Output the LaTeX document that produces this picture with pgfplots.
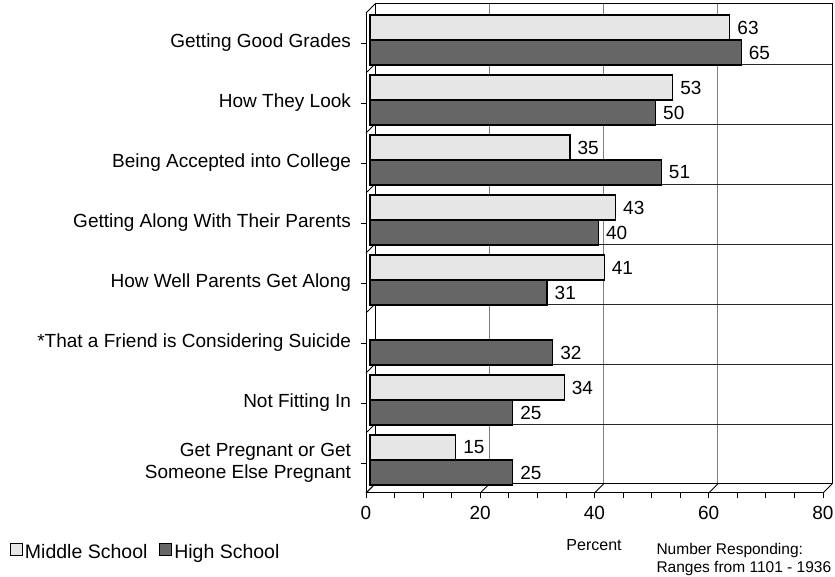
\documentclass[border=0pt]{standalone}
\usepackage{pgfplots}
\pgfplotsset{compat=1.18}
\usepackage{fontspec}
\setmainfont{Liberation Sans}

\definecolor{middlegray}{HTML}{E6E6E6}
\definecolor{highgray}{HTML}{666666}
\definecolor{gridgray}{HTML}{808080}

\begin{document}
\begin{tikzpicture}
\useasboundingbox (0,0) rectangle (835pt,577pt);
\begin{axis}[
  at={(366pt,84pt)}, anchor=south west,
  scale only axis, width=457pt, height=480pt,
  clip=false,
  xmin=0, xmax=80, ymin=0.5, ymax=8.5,
  axis x line*=bottom, axis y line*=left,
  xtick={0,20,40,60,80}, minor x tick num=3,
  ytick={1,...,8},
  yticklabels={{Get Pregnant or Get\\Someone Else Pregnant},
    Not Fitting In,
    *That a Friend is Considering Suicide,
    How Well Parents Get Along,
    Getting Along With Their Parents,
    Being Accepted into College,
    How They Look,
    Getting Good Grades},
  tick align=outside,
  major tick length=5.5pt, minor tick length=5pt,
  every tick/.style={black, line width=0.8pt},
  xmajorgrids,
  major x grid style={gridgray, line width=0.9pt, xshift=9pt, yshift=9pt},
  extra y ticks={1.5,2.5,3.5,4.5,5.5,6.5,7.5},
  extra y tick labels={},
  extra y tick style={grid=major, major tick length=0pt,
    major grid style={black!85, line width=0.9pt, xshift=9pt, yshift=9pt}},
  axis line style={black, line width=1pt, -},
  /pgf/number format/assume math mode=true,
  yticklabel style={font=\fontsize{19}{22}\selectfont, align=right, xshift=-6pt},
  xticklabel style={font=\fontsize{19}{21}\selectfont, yshift=-4pt},
  xlabel={Percent},
  xlabel style={at={(axis description cs:0.499,-0.108)}, anchor=center,
    font=\fontsize{16}{18}\selectfont},
  xbar, bar width=25pt,
  nodes near coords,
  every node near coord/.append style={anchor=west, inner sep=0pt,
    xshift=7pt, font=\fontsize{19}{21}\selectfont},
  legend style={at={(axis description cs:-0.779,-0.123)}, anchor=west,
    draw=none, fill=none, legend columns=2,
    font=\fontsize{19.5}{22}\selectfont,
    /tikz/every even column/.append style={column sep=10pt},
    inner sep=0pt},
  legend image code/.code={\draw[#1, line width=0.8pt] (0pt,-6pt) rectangle (12pt,6pt);},
]
% back wall of the frame and the slanted edges joining it to the front axes
\draw[black, line width=1pt] ([shift={(9pt,9pt)}]rel axis cs:0,0) rectangle ([shift={(9pt,9pt)}]rel axis cs:1,1);
\pgfplotsinvokeforeach{0,20,40,60,80}{
  \draw[black, line width=0.8pt] (axis cs:#1,0.5) -- ++(9pt,9pt);
}
\pgfplotsinvokeforeach{0.5,1.5,2.5,3.5,4.5,5.5,6.5,7.5,8.5}{
  \draw[black, line width=0.8pt] (axis cs:0,#1) -- ++(9pt,9pt);
}

\addplot[fill=middlegray, draw=black, line width=1.2pt, bar shift=12.5pt,
  xshift=4pt, yshift=3pt]
  coordinates {(63,8) (53,7) (35,6) (43,5) (41,4) (34,2) (15,1)};
\addplot[fill=highgray, draw=black, line width=1.2pt, bar shift=-12.5pt,
  xshift=4pt, yshift=3pt]
  coordinates {(65,8) (50,7) (51,6) (40,5) (31,4) (32,3) (25,2) (25,1)};
\legend{Middle School, High School}
\node[anchor=west, align=left, font=\fontsize{15.5}{18}\selectfont]
  at (axis description cs:0.628,-0.1375)
  {Number Responding:\\Ranges from 1101 - 1936};
\end{axis}
\end{tikzpicture}
\end{document}
